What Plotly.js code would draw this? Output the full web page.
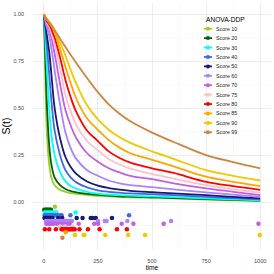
<!DOCTYPE html>
<html><head><meta charset="utf-8">
<script src="https://cdn.plot.ly/plotly-3.0.1.min.js"></script>
<style>html,body{margin:0;padding:0;background:#fff}#chart{width:274px;height:274px}</style>
</head><body><div id="chart"></div>
<script>
// ---- data ----
const seriesNames = ['Score 10','Score 20','Score 30','Score 40','Score 50','Score 60','Score 70','Score 75','Score 80','Score 85','Score 90','Score 99'];
const seriesColors = ['#9acd32','#006400','#00ffff','#4169e1','#191970','#ab82ff','#c25fe0','#ffc0cb','#ff0000','#ffa500','#eec900','#cd853f'];
const times = [0, 5, 10, 15, 25, 35, 50, 75, 100, 125, 150, 200, 250, 300, 350, 400, 500, 600, 750, 875, 1000];
const surv10 = [1, 0.78, 0.5, 0.35, 0.2, 0.13, 0.09, 0.065, 0.055, 0.048, 0.044, 0.038, 0.033, 0.03, 0.028, 0.026, 0.023, 0.02, 0.014, 0.01, 0.006];
const surv20 = [1, 0.85, 0.65, 0.5, 0.3, 0.2, 0.13, 0.09, 0.07, 0.058, 0.052, 0.044, 0.038, 0.034, 0.031, 0.029, 0.026, 0.022, 0.016, 0.012, 0.008];
const surv30 = [1, 0.91, 0.8, 0.7, 0.5, 0.36, 0.25, 0.16, 0.11, 0.085, 0.072, 0.055, 0.045, 0.04, 0.037, 0.034, 0.03, 0.027, 0.02, 0.015, 0.01];
const surv40 = [1, 0.95, 0.89, 0.82, 0.68, 0.54, 0.38, 0.25, 0.17, 0.13, 0.105, 0.078, 0.063, 0.055, 0.05, 0.046, 0.042, 0.037, 0.028, 0.021, 0.015];
const surv50 = [1, 0.96, 0.92, 0.88, 0.8, 0.68, 0.5, 0.34, 0.24, 0.185, 0.15, 0.11, 0.088, 0.075, 0.066, 0.06, 0.053, 0.047, 0.037, 0.028, 0.02];
const surv60 = [1, 0.975, 0.945, 0.925, 0.885, 0.82, 0.7, 0.52, 0.37, 0.285, 0.23, 0.17, 0.14, 0.115, 0.1, 0.09, 0.08, 0.068, 0.052, 0.04, 0.028];
const surv70 = [1, 0.98, 0.96, 0.945, 0.92, 0.88, 0.79, 0.63, 0.49, 0.405, 0.34, 0.26, 0.215, 0.18, 0.158, 0.14, 0.122, 0.1, 0.073, 0.055, 0.037];
const surv75 = [1, 0.985, 0.965, 0.952, 0.93, 0.9, 0.84, 0.71, 0.57, 0.48, 0.41, 0.325, 0.275, 0.23, 0.2, 0.178, 0.15, 0.125, 0.09, 0.068, 0.05];
const surv80 = [1, 0.985, 0.97, 0.96, 0.945, 0.92, 0.875, 0.77, 0.65, 0.555, 0.48, 0.38, 0.325, 0.27, 0.235, 0.21, 0.18, 0.155, 0.108, 0.085, 0.065];
const surv85 = [1, 0.99, 0.975, 0.968, 0.955, 0.935, 0.905, 0.815, 0.72, 0.63, 0.55, 0.445, 0.385, 0.33, 0.29, 0.26, 0.225, 0.19, 0.135, 0.108, 0.085];
const surv90 = [1, 0.99, 0.98, 0.975, 0.96, 0.945, 0.915, 0.85, 0.78, 0.7, 0.63, 0.515, 0.44, 0.385, 0.345, 0.315, 0.27, 0.23, 0.17, 0.14, 0.115];
const surv99 = [1, 0.99, 0.98, 0.972, 0.955, 0.94, 0.915, 0.87, 0.825, 0.782, 0.74, 0.66, 0.585, 0.52, 0.47, 0.43, 0.37, 0.32, 0.25, 0.213, 0.18];
// observed times drawn as dots below zero, one row per score
const events10 = [51];
const events20 = [2, 7, 12, 17, 22, 28, 33];
const events30 = [5, 12, 20, 28, 36, 44, 52, 58, 147];
const events40 = [4, 12, 20, 28, 36, 44, 52, 62, 75, 82, 123, 394];
const events50 = [3, 9, 15, 21, 27, 33, 40, 66, 85, 152, 179, 217, 226, 240, 315];
const events60 = [10, 18, 26, 34, 42, 50, 58, 66, 74, 82, 90, 98, 106, 114, 122, 130, 250, 282, 290, 386, 588];
const events70 = [12, 20, 28, 36, 44, 60, 76, 92, 108, 120, 161, 233, 251, 360, 414, 554, 992];
const events75 = [75, 98, 132];
const events80 = [5, 25, 56, 82, 88, 94, 100, 106, 112, 118, 124, 130, 136, 143, 165, 204, 258, 338, 384];
const events85 = [101];
const events90 = [144, 184, 188, 284, 390, 468, 998];
const events99 = [86];
const rugLevels = [-0.025, -0.04, -0.055, -0.07, -0.085, -0.1, -0.115, -0.13, -0.145, -0.16, -0.175, -0.19];

const survs = [surv10, surv20, surv30, surv40, surv50, surv60, surv70, surv75, surv80, surv85, surv90, surv99];
const events = [events10, events20, events30, events40, events50, events60, events70, events75, events80, events85, events90, events99];

const traces = [];
survs.forEach((s, i) => {
  traces.push({x: times, y: s, type: 'scatter', mode: 'lines', showlegend: false, hoverinfo: 'skip',
    line: {color: seriesColors[i], width: 1.8, shape: 'spline', smoothing: 1}});
});
events.forEach((ev, i) => {
  traces.push({x: ev, y: ev.map(() => rugLevels[i]), type: 'scatter', mode: 'markers', showlegend: false, hoverinfo: 'skip',
    marker: {color: seriesColors[i], size: 4.5, line: {width: 0}}});
});

// ---- manual legend (ggplot-style compact keys) ----
const W = 274, H = 274, M = {l: 33, r: 3, t: 3, b: 25};
const pw = W - M.l - M.r, ph = H - M.t - M.b;
const px2x = p => (p - M.l) / pw;
const py2y = p => (H - M.b - p) / ph;
const shapes = [], annotations = [];
const legKeyX = 208, legTextX = 214, legTop = 28.7, legStep = 9.42;
annotations.push({xref: 'paper', yref: 'paper', x: px2x(203.5), y: py2y(19), xanchor: 'left', yanchor: 'middle',
  text: 'ANOVA-DDP', showarrow: false, font: {family: 'Liberation Sans, Arial, sans-serif', size: 6.6, color: '#000'}});
seriesNames.forEach((n, i) => {
  const yy = py2y(legTop + i * legStep);
  shapes.push({type: 'line', xref: 'paper', yref: 'paper', xsizemode: 'pixel', xanchor: px2x(legKeyX), x0: -4, x1: 4, y0: yy, y1: yy,
    line: {color: seriesColors[i], width: 1.8}});
  shapes.push({type: 'circle', xref: 'paper', yref: 'paper', xsizemode: 'pixel', ysizemode: 'pixel', xanchor: px2x(legKeyX), yanchor: yy,
    x0: -2, x1: 2, y0: -2, y1: 2, fillcolor: seriesColors[i], line: {width: 0}});
  annotations.push({xref: 'paper', yref: 'paper', x: px2x(legTextX), y: yy, xanchor: 'left', yanchor: 'middle',
    text: n, showarrow: false, font: {family: 'Liberation Sans, Arial, sans-serif', size: 5.3, color: '#1a1a1a'}});
});

const layout = {
  width: W, height: H, margin: M, paper_bgcolor: '#fff', plot_bgcolor: '#fff',
  font: {family: 'Liberation Sans, Arial, sans-serif', color: '#4d4d4d'},
  showlegend: false,
  xaxis: {range: [-50, 1050], tickvals: [0, 250, 500, 750, 1000], ticks: '', showline: false, zeroline: false,
    showgrid: true, gridcolor: '#ebebeb', gridwidth: 0.9, tickfont: {size: 5.6, color: '#4d4d4d'}, ticklabelstandoff: 7,
    minor: {dtick: 125, tick0: 0, showgrid: true, gridcolor: '#f3f3f3', gridwidth: 0.5},
    title: {text: 'time', font: {size: 6.6, color: '#000'}, standoff: 2}},
  yaxis: {range: [-0.2495, 1.0595], tickvals: [0, 0.25, 0.5, 0.75, 1], ticktext: ['0.00','0.25','0.50','0.75','1.00'],
    ticks: '', showline: false, zeroline: false, showgrid: true, gridcolor: '#ebebeb', gridwidth: 0.9,
    tickfont: {size: 5.4, color: '#4d4d4d'}, ticklabelstandoff: 8,
    minor: {dtick: 0.125, tick0: 0, showgrid: true, gridcolor: '#f3f3f3', gridwidth: 0.5},
    title: {text: 'S(t)', font: {size: 10.5, color: '#000'}, standoff: 4}},
  shapes: shapes, annotations: annotations
};
Plotly.newPlot('chart', traces, layout, {staticPlot: true, displayModeBar: false});
</script></body></html>
